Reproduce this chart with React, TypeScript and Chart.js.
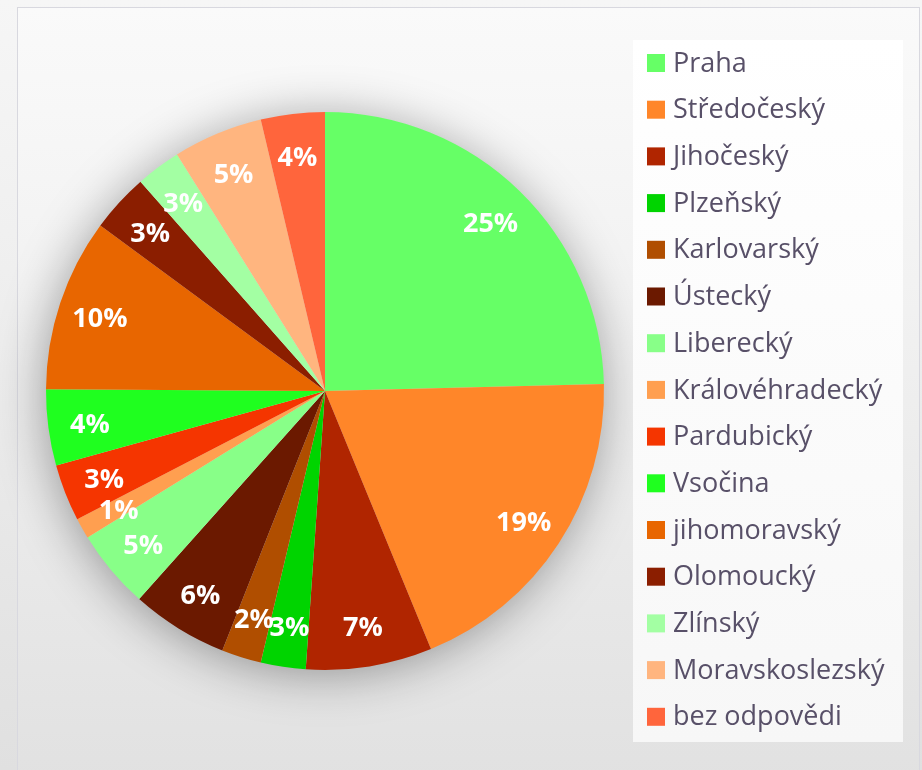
import React, { useEffect, useRef } from "react";
import { Chart, registerables } from "chart.js";

Chart.register(...registerables);

const regions: string[] = [
  "Praha",
  "Středočeský",
  "Jihočeský",
  "Plzeňský",
  "Karlovarský",
  "Ústecký",
  "Liberecký",
  "Královéhradecký",
  "Pardubický",
  "Vsočina",
  "jihomoravský",
  "Olomoucký",
  "Zlínský",
  "Moravskoslezský",
  "bez odpovědi",
];

const shares: number[] = [24.6, 19.2, 7.3, 2.6, 2.3, 5.6, 4.6, 1.2, 3.3, 4.4, 10.0, 3.4, 2.6, 5.2, 3.7];

const sliceColors: string[] = [
  "#66FF66",
  "#FF8629",
  "#B02500",
  "#00D400",
  "#B04E00",
  "#6B1900",
  "#88FF88",
  "#FF9F50",
  "#F53500",
  "#1FFF1F",
  "#E86600",
  "#8B1E00",
  "#A3FFA3",
  "#FFB57F",
  "#FF653C",
];

const shadowPlugin = {
  id: "pieShadow",
  beforeDatasetsDraw(chart: any) {
    const meta = chart.getDatasetMeta(0);
    const arc = meta.data[0];
    if (!arc) return;
    const { x, y, outerRadius } = arc.getProps(["x", "y", "outerRadius"], true);
    const ctx = chart.ctx;
    ctx.save();
    ctx.shadowColor = "rgba(0,0,0,0.38)";
    ctx.shadowBlur = 50;
    ctx.shadowOffsetX = -2;
    ctx.shadowOffsetY = 5;
    ctx.fillStyle = "#dddddd";
    ctx.beginPath();
    ctx.arc(x, y, outerRadius - 2, 0, Math.PI * 2);
    ctx.fill();
    ctx.restore();
  },
};

const labelPlugin = {
  id: "pctLabels",
  afterDatasetsDraw(chart: any) {
    const ctx = chart.ctx;
    const ds = chart.data.datasets[0];
    const vals = ds.data as number[];
    const total = vals.reduce((a, b) => a + b, 0);
    const meta = chart.getDatasetMeta(0);
    ctx.save();
    ctx.fillStyle = "#ffffff";
    ctx.font = "bold 27px 'Open Sans'";
    ctx.textAlign = "center";
    ctx.textBaseline = "middle";
    meta.data.forEach((arc: any, i: number) => {
      const p = arc.getProps(["x", "y", "startAngle", "endAngle", "outerRadius"], true);
      const mid = (p.startAngle + p.endAngle) / 2;
      const r = p.outerRadius * 0.85;
      const lx = p.x + Math.cos(mid) * r;
      const ly = p.y + Math.sin(mid) * r + 3;
      const pct = Math.round((vals[i] / total) * 100);
      ctx.fillText(pct + "%", lx, ly);
    });
    ctx.restore();
  },
};

const legendPlugin = {
  id: "boxLegend",
  afterDraw(chart: any) {
    const ctx = chart.ctx;
    const labels = chart.data.labels as string[];
    const colors = chart.data.datasets[0].backgroundColor as string[];
    const boxX = 633;
    const boxY = 40;
    const boxW = 270;
    const boxH = 702;
    ctx.save();
    const g = ctx.createLinearGradient(0, boxY, 0, boxY + boxH);
    g.addColorStop(0, "#ffffff");
    g.addColorStop(1, "#f7f7f7");
    ctx.fillStyle = g;
    ctx.fillRect(boxX, boxY, boxW, boxH);
    const step = 46.7;
    ctx.font = "27px 'Open Sans'";
    ctx.textBaseline = "middle";
    ctx.textAlign = "left";
    labels.forEach((lab, i) => {
      const cy = 63 + i * step;
      ctx.fillStyle = colors[i];
      ctx.fillRect(647, cy - 9, 18, 18);
      ctx.fillStyle = "#585068";
      ctx.fillText(lab, 673, cy + 1);
    });
    ctx.restore();
  },
};

export default function App() {
  const ref = useRef<HTMLCanvasElement | null>(null);
  useEffect(() => {
    if (!ref.current) return;
    const chart = new Chart(ref.current, {
      type: "pie",
      data: {
        labels: regions,
        datasets: [
          {
            data: shares,
            backgroundColor: sliceColors,
            borderWidth: 0,
          },
        ],
      },
      options: {
        responsive: false,
        animation: false,
        layout: { padding: { left: 46, top: 112, right: 318, bottom: 100 } },
        plugins: {
          legend: { display: false },
          tooltip: { enabled: false },
        },
      },
      plugins: [shadowPlugin, labelPlugin, legendPlugin],
    });
    return () => chart.destroy();
  }, []);

  return (
    <div
      style={{
        position: "fixed",
        left: 0,
        top: 0,
        width: 922,
        height: 770,
        background: "linear-gradient(to bottom, #f6f6f6 0%, #eeeeee 40%, #e0e0e0 100%)",
        overflow: "hidden",
      }}
    >
      <div
        style={{
          position: "absolute",
          left: 17,
          top: 7,
          width: 901,
          height: 780,
          border: "1px solid #d8d8df",
          background: "linear-gradient(to bottom, #fafafa 0%, #f2f2f2 35%, #e1e1e1 100%)",
        }}
      />
      <canvas
        ref={ref}
        width={922}
        height={770}
        style={{ position: "absolute", left: 0, top: 0, width: 922, height: 770 }}
      />
    </div>
  );
}
